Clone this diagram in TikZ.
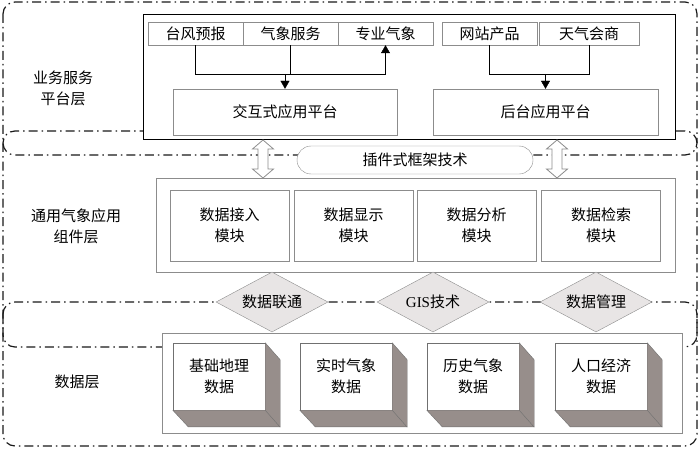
\documentclass[tikz,border=0pt]{standalone}
\usepackage{fontspec}
\setmainfont{Liberation Serif}
\newfontfamily\cjk{Noto Sans CJK SC}
\usetikzlibrary{arrows.meta,shapes.geometric}
\definecolor{boxgray}{RGB}{140,140,140}
\definecolor{diafill}{RGB}{232,229,229}
\definecolor{sidefill}{RGB}{151,142,139}

\begin{document}
\begin{tikzpicture}[x=1pt,y=-1pt,>={Triangle[length=8pt,width=9pt]},font=\cjk\fontsize{15}{21}\selectfont,
  layer/.style={draw=black!90,line width=1.2pt,rounded corners=12pt,dash pattern=on 9pt off 4pt on 1.5pt off 4pt},
  tab/.style={draw=boxgray,fill=white,minimum height=23pt,inner sep=0pt},
  plat/.style={draw=boxgray,fill=white,minimum width=225pt,minimum height=46pt},
  module/.style={draw=boxgray,fill=white,minimum width=119pt,minimum height=71pt,align=center},
  link/.style={diamond,aspect=2,draw=boxgray,fill=diafill,minimum width=112pt,minimum height=60pt,inner sep=0pt},
  store/.style={draw=boxgray!80!black,fill=white,minimum width=92pt,minimum height=67pt,align=center},
  dbl/.style={draw=boxgray,fill=white,line width=0.8pt}]
\useasboundingbox (0,0) rectangle (700,449);
% three layers
\draw[layer] (3,302) rectangle (697,446);
\draw[layer] (3,131) rectangle (697,347);
\draw[layer] (3,2) rectangle (697,155);
\node[align=center] (l1) at (63,88) {业务服务\\平台层};
\node[align=center] (l2) at (76,226) {通用气象应用\\组件层};
\node (l3) at (77,382) {数据层};

% service platform layer
\node[draw,line width=1pt,fill=white,minimum width=532pt,minimum height=125pt] (topbox) at (409,77.5) {};
\node[tab,minimum width=95pt] (tf) at (195.5,33.5) {台风预报};
\node[tab,minimum width=95pt] (qx) at (290.5,33.5) {气象服务};
\node[tab,minimum width=95pt] (zy) at (385.5,33.5) {专业气象};
\node[tab,minimum width=95pt] (wz) at (489.5,33.5) {网站产品};
\node[tab,minimum width=100pt] (tq) at (589,33.5) {天气会商};
\node[plat,minimum width=224pt] (jh) at (285,112) {交互式应用平台};
\node[plat] (ht) at (545.5,112) {后台应用平台};
\coordinate (jl) at (0,74);
\draw[->] (tf.south) |- (jl -| zy.south) -- (zy.south);
\draw (qx.south) -- (qx.south |- jl);
\draw[->] (jl -| jh.north) -- (jh.north);
\draw (wz.south) |- (jl -| tq.south) -- (tq.south);
\draw[->] (jl -| ht.north) -- (ht.north);

% component layer
\node[draw=boxgray,fill=white,rounded corners=14pt,minimum width=236pt,minimum height=28pt] (plug) at (415,160) {插件式框架技术};
\foreach \ax in {263,557}
  \filldraw[dbl] (\ax,140) -- ++(10.5,9) -- ++(-5.5,0) -- ++(0,20) -- ++(5.5,0) -- ++(-10.5,9)
    -- ++(-10.5,-9) -- ++(5.5,0) -- ++(0,-20) -- ++(-5.5,0) -- cycle;
\node[draw=boxgray,fill=white,minimum width=519pt,minimum height=94pt] (grp) at (415.5,225) {};
\node[module] (m1) at (229.5,225.5) {数据接入\\模块};
\node[module] (m2) at (353.5,225.5) {数据显示\\模块};
\node[module] (m3) at (476.5,225.5) {数据分析\\模块};
\node[module] (m4) at (601,225.5) {数据检索\\模块};

% data layer
\node[link] (k1) at (272,302) {数据联通};
\node[link] (k2) at (433,302) {{\rmfamily GIS}技术};
\node[link] (k3) at (596,302) {数据管理};
\node[draw=boxgray,fill=white,minimum width=520pt,minimum height=100pt] (dbox) at (422,383) {};
\foreach \i/\bx/\txt in {1/219/{基础地理\\数据},2/346/{实时气象\\数据},3/473/{历史气象\\数据},4/601/{人口经济\\数据}}{
  \node[store] (d\i) at (\bx,376.5) {\txt};
  \filldraw[fill=sidefill,draw=boxgray!80!black] (d\i.north east) -- ++(15,17) -- ++(0,67) -- ++(-92,0)
    -- (d\i.south west) -- (d\i.south east) -- cycle;
  \draw[boxgray!80!black] (d\i.south east) -- ++(15,17);
}
\end{tikzpicture}
\end{document}
